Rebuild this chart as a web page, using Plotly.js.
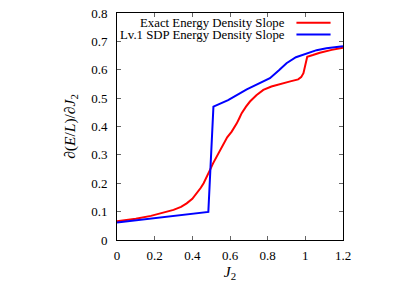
<!DOCTYPE html>
<html><head><meta charset="utf-8">
<script src="https://cdn.plot.ly/plotly-3.0.1.min.js"></script>
<style>html,body{margin:0;padding:0;background:#fff}#c{width:420px;height:294px}</style>
</head><body><div id="c"></div>
<script>
const exactJ2 = [0.0, 0.1, 0.18, 0.25, 0.30, 0.34, 0.37, 0.40, 0.424, 0.445, 0.46, 0.48, 0.494, 0.51, 0.53, 0.55, 0.565, 0.585, 0.609, 0.625, 0.636, 0.65, 0.662, 0.685, 0.706, 0.74, 0.777, 0.82, 0.865, 0.92, 0.962, 0.978, 0.99, 1.0, 1.01, 1.04, 1.077, 1.14, 1.2];
const exactSlope = [0.066, 0.075, 0.085, 0.096, 0.106, 0.117, 0.129, 0.145, 0.165, 0.184, 0.200, 0.225, 0.247, 0.270, 0.294, 0.320, 0.341, 0.362, 0.382, 0.398, 0.411, 0.430, 0.447, 0.470, 0.488, 0.510, 0.529, 0.541, 0.550, 0.559, 0.566, 0.574, 0.588, 0.620, 0.646, 0.652, 0.660, 0.670, 0.678];
const sdpJ2 = [0.0, 0.485, 0.512, 0.59, 0.689, 0.75, 0.812, 0.86, 0.90, 0.95, 1.006, 1.06, 1.112, 1.2];
const sdpSlope = [0.062, 0.099, 0.470, 0.493, 0.531, 0.551, 0.570, 0.598, 0.623, 0.644, 0.658, 0.669, 0.676, 0.683];
const seriesNames = ["Exact Energy Density Slope", "Lv.1 SDP Energy Density Slope"];
const seriesColors = ["#ff0000", "#0000ff"];
const xTicks = [0, 0.2, 0.4, 0.6, 0.8, 1, 1.2];
const yTicks = [0, 0.1, 0.2, 0.3, 0.4, 0.5, 0.6, 0.7, 0.8];

const fam = '"Liberation Serif", "DejaVu Serif", serif';
const tickFont = {family: fam, size: 13, color: '#000'};
const titleFont = {family: fam, size: 15.5, color: '#000'};
const traces = [
  {x: exactJ2, y: exactSlope, mode: 'lines', name: seriesNames[0], line: {color: seriesColors[0], width: 2}},
  {x: sdpJ2, y: sdpSlope, mode: 'lines', name: seriesNames[1], line: {color: seriesColors[1], width: 2}}
];
const axisCommon = {showgrid: false, zeroline: false, showline: true, linecolor: '#000', linewidth: 1,
  mirror: 'ticks', ticks: 'inside', ticklen: 4, tickcolor: '#666', tickfont: tickFont};
const layout = {
  width: 420, height: 294,
  margin: {l: 117, r: 77, t: 13, b: 54},
  paper_bgcolor: '#fff', plot_bgcolor: '#fff',
  font: tickFont,
  showlegend: false,
  xaxis: Object.assign({}, axisCommon, {range: [0, 1.2], tickvals: xTicks, ticktext: xTicks.map(String),
    ticklabelstandoff: 3,
    title: {text: '<i>J</i><sub>2</sub>', font: titleFont, standoff: 3}}),
  yaxis: Object.assign({}, axisCommon, {range: [0, 0.8], tickvals: yTicks, ticktext: yTicks.map(String),
    ticklabelstandoff: 6,
    title: {text: '∂(<i>E</i>/<i>L</i>)/∂<i>J</i><sub>2</sub>', font: titleFont, standoff: 11}}),
  annotations: seriesNames.map((n, i) => ({xref: 'paper', yref: 'paper', x: 0.754, y: 0.957 - i*0.052,
    xanchor: 'right', yanchor: 'middle', text: n, showarrow: false, font: {family: fam, size: 12.8, color: '#000'}})),
  shapes: seriesColors.map((c, i) => ({type: 'line', xref: 'paper', yref: 'paper', x0: 0.794, x1: 0.945,
    y0: 0.957 - i*0.052, y1: 0.957 - i*0.052, line: {color: c, width: 2}}))
};
Plotly.newPlot('c', traces, layout, {staticPlot: true, displayModeBar: false});
</script></body></html>
